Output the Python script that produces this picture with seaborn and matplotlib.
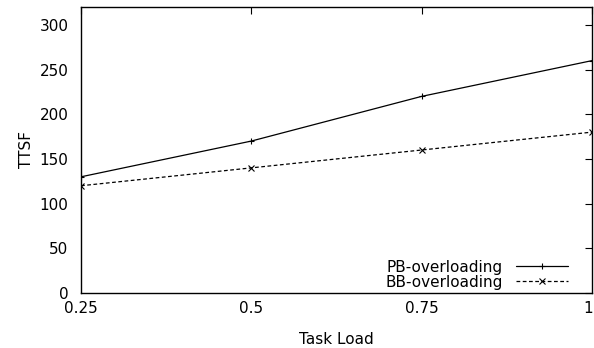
import matplotlib
matplotlib.use("Agg")
import matplotlib.pyplot as plt
import seaborn as sns
import pandas as pd
from matplotlib.lines import Line2D
from matplotlib.transforms import ScaledTranslation

task_load = [0.25, 0.5, 0.75, 1.0]
pb_overloading = [130, 170, 220, 260]
bb_overloading = [120, 140, 160, 180]
x_ticks = [0.25, 0.5, 0.75, 1.0]
x_tick_labels = ["0.25", "0.5", "0.75", "1"]
y_ticks = [0, 50, 100, 150, 200, 250, 300]

sns.set_theme(style="white")
plt.rcParams["font.family"] = ["DejaVu Sans"]
plt.rcParams["text.color"] = "black"
plt.rcParams["axes.labelcolor"] = "black"
FS = 11

df = pd.concat([
    pd.DataFrame({"Task Load": task_load, "TTSF": pb_overloading, "series": "PB-overloading"}),
    pd.DataFrame({"Task Load": task_load, "TTSF": bb_overloading, "series": "BB-overloading"}),
])

fig = plt.figure(figsize=(5.94, 3.48), dpi=100)
ax = fig.add_axes([81 / 594, 55 / 348, 511 / 594, 286 / 348])

sns.lineplot(data=df, x="Task Load", y="TTSF", hue="series", style="series",
             palette=["black", "black"], dashes=[(None, None), (3, 2)],
             markers=["+", "x"], markersize=5, markeredgewidth=0.8,
             markeredgecolor="black", linewidth=0.9, ax=ax, legend=False)

ax.set_xlim(0.25, 1.0)
ax.set_ylim(0, 320)
ax.set_xticks(x_ticks)
ax.set_xticklabels(x_tick_labels)
ax.set_yticks(y_ticks)
ax.tick_params(direction="in", length=5, width=0.8, top=True, right=True,
               labelsize=FS, colors="black")
ax.tick_params(axis="x", pad=6)
ax.tick_params(axis="y", pad=9)
last = ax.get_xticklabels()[-1]
last.set_transform(last.get_transform() + ScaledTranslation(-3 / 72, 0, fig.dpi_scale_trans))
for s in ax.spines.values():
    s.set_visible(True)
    s.set_color("black")
    s.set_linewidth(1.0)
ax.set_xlabel("Task Load", fontsize=FS, labelpad=11)
ax.set_ylabel("TTSF", fontsize=FS, labelpad=4)

handles = [
    Line2D([], [], color="black", lw=0.9, marker="+", markersize=5, markeredgewidth=0.8),
    Line2D([], [], color="black", lw=0.9, ls=(0, (3, 2)), marker="x", markersize=4, markeredgewidth=0.8),
]
leg = ax.legend(handles, ["PB-overloading", "BB-overloading"], loc="lower right",
                bbox_to_anchor=(0.953, 0.012), frameon=False, markerfirst=False,
                fontsize=FS, handlelength=3.4, handletextpad=0.85, labelspacing=0.0,
                borderpad=0, borderaxespad=0)
for t in leg.get_texts():
    t.set_color("black")

fig.savefig("out.png", dpi=100)
